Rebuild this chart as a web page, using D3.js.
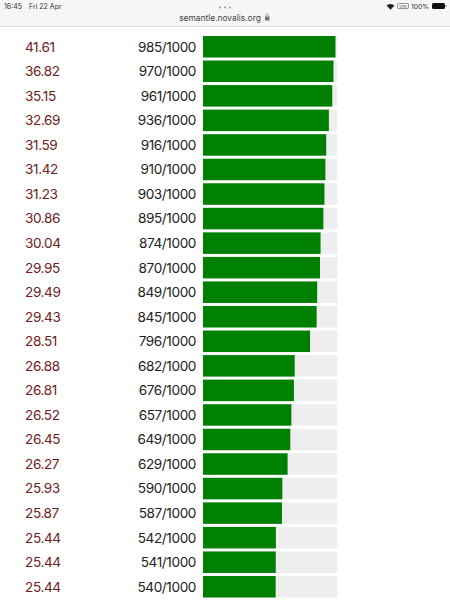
<!DOCTYPE html>
<html>
<head>
<meta charset="utf-8">
<script src="https://cdn.jsdelivr.net/npm/d3@7"></script>
<style>
html,body{margin:0;padding:0;background:#fff;overflow:hidden}
svg{display:block;font-family:Inter,"Noto Sans",sans-serif}
</style>
</head>
<body>
<svg id="c" width="450" height="600"></svg>
<script>
const similarity = [41.61,36.82,35.15,32.69,31.59,31.42,31.23,30.86,30.04,29.95,29.49,29.43,28.51,26.88,26.81,26.52,26.45,26.27,25.93,25.87,25.44,25.44,25.44];
const ranks = [985,970,961,936,916,910,903,895,874,870,849,845,796,682,676,657,649,629,590,587,542,541,540];
const maxRank = 1000;

const svg = d3.select("#c");
const idx = d3.range(ranks.length);
const x = d3.scaleLinear().domain([0,maxRank]).range([203,337.5]);
const y = d3.scaleLinear().domain([0,ranks.length-1]).range([36,576]);
const barH = 21.5;

// browser chrome
svg.append("rect").attr("width",450).attr("height",26).attr("fill","#f6f6f6");
svg.append("line").attr("x1",0).attr("x2",450).attr("y1",26.5).attr("y2",26.5).attr("stroke","#dcdcdc");
const small = (t,xx,yy,fs,anchor,fill)=>svg.append("text").text(t).attr("x",xx).attr("y",yy).attr("font-size",fs).attr("text-anchor",anchor||"start").attr("fill",fill||"#333");
small("16:45",4,8.8,7);
small("Fri 22 Apr",29,8.8,7);
small("semantle.novalis.org",220,21,8.4,"middle","#444");
small("100%",411,8.8,6.8);
[0,1,2].forEach(i=>svg.append("circle").attr("cx",220+i*5).attr("cy",7.5).attr("r",1).attr("fill","#999"));
// lock
svg.append("rect").attr("x",265).attr("y",16.5).attr("width",4.5).attr("height",4).attr("fill","#777");
svg.append("path").attr("d","M266 16.5v-1.2a1.2 1.2 0 0 1 2.5 0v1.2").attr("fill","none").attr("stroke","#777").attr("stroke-width",0.7);
// wifi
svg.append("path").attr("d","M386.5 5.5a6 6 0 0 1 8 0l-4 4.2z").attr("fill","#222");
// vpn
svg.append("rect").attr("x",397.5).attr("y",3.5).attr("width",11).attr("height",5).attr("rx",1).attr("fill","none").attr("stroke","#555").attr("stroke-width",0.6);
small("VPN",403,7.6,3.6,"middle","#555");
// battery
svg.append("rect").attr("x",432).attr("y",3).attr("width",13).attr("height",6).attr("rx",1.5).attr("fill","#111");
svg.append("rect").attr("x",445.5).attr("y",5).attr("width",1).attr("height",2).attr("fill","#777");

const rows = svg.append("g").selectAll("g").data(idx).join("g");
rows.append("text").text(i=>similarity[i].toFixed(2))
  .attr("x",25).attr("y",i=>y(i)+barH/2+4.9).attr("font-size",13.6).attr("letter-spacing",-0.4).attr("fill","#6e2020");
rows.append("text").text(i=>ranks[i]+"/"+maxRank)
  .attr("x",196).attr("y",i=>y(i)+barH/2+4.9).attr("font-size",13.6).attr("letter-spacing",-0.4).attr("text-anchor","end").attr("fill","#222");
rows.append("rect").attr("x",x(0)).attr("y",i=>y(i)).attr("width",x(maxRank)-x(0)).attr("height",barH).attr("fill","#eeeeee");
rows.append("rect").attr("x",x(0)).attr("y",i=>y(i)).attr("width",i=>x(ranks[i])-x(0)).attr("height",barH).attr("fill","#008000");
</script>
</body>
</html>
